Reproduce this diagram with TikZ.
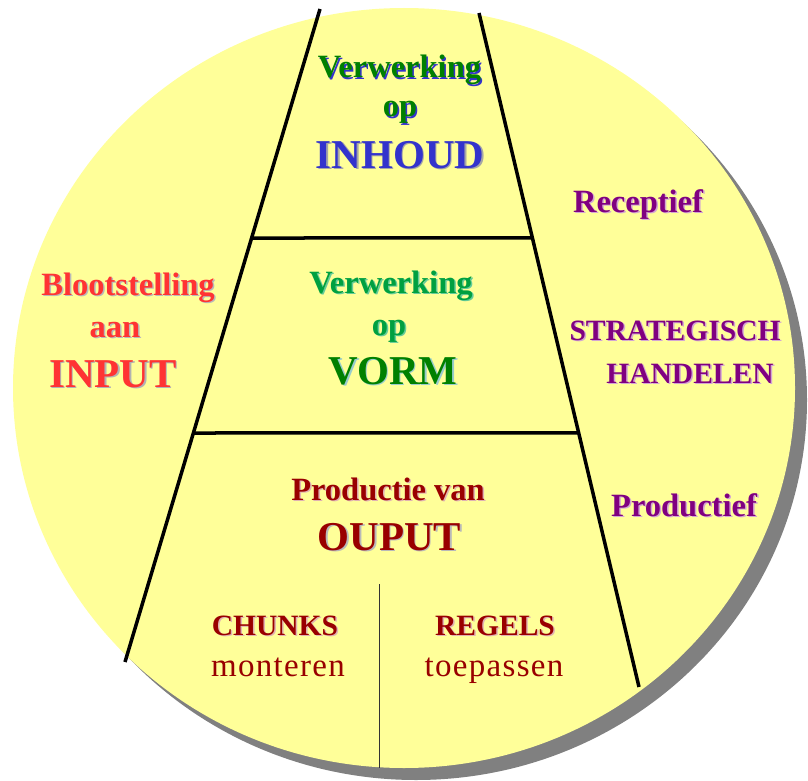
\documentclass[tikz,border=0pt]{standalone}
\usepackage{fontspec}
\setmainfont{Liberation Serif}
\usetikzlibrary{calc}
\definecolor{disc}{HTML}{FFFF99}
\definecolor{discshadow}{HTML}{808080}
\definecolor{inred}{HTML}{FF3333}
\definecolor{purp}{HTML}{800080}
\definecolor{dred}{HTML}{990000}
\definecolor{inblue}{HTML}{3333CC}
\definecolor{topgreen}{HTML}{008000}
\definecolor{midgreen}{HTML}{00A040}
\definecolor{midshade}{HTML}{66CC99}
\definecolor{vormgreen}{HTML}{008000}
\definecolor{vormshade}{HTML}{99CCCC}
\newcommand{\shd}[2]{\rlap{\kern1.5pt\raisebox{-1.5pt}{\textcolor{#1}{#2}}}#2}
\tikzset{
  lbl/.style={inner sep=0pt, anchor=base},
  fmid/.style={font=\bfseries\fontsize{32.5}{36}\selectfont},
  fbig/.style={font=\bfseries\fontsize{41}{46}\selectfont},
  fcap/.style={font=\bfseries\fontsize{29.5}{33}\selectfont},
  freg/.style={font=\fontsize{33}{36}\selectfont\addfontfeatures{LetterSpace=4}},
  divider/.style={line width=3.5pt, black},
  thinline/.style={line width=1pt, black!80},
}
\begin{document}
\begin{tikzpicture}[x=1pt,y=-1pt]
\useasboundingbox (0,0) rectangle (808,781);
% disc with shadow
\fill[discshadow] (416,400) ellipse [x radius=391pt, y radius=380pt];
\fill[disc] (404,388) ellipse [x radius=391pt, y radius=380pt];
% trapezoid lines
\coordinate (lt) at (320,9);
\coordinate (lb) at (125,662);
\coordinate (rt) at (479,13);
\coordinate (rb) at (639,687);
\coordinate (h1l) at ($(lt)!0.3507!(lb)$);
\coordinate (h1r) at ($(rt)!0.3338!(rb)$);
\coordinate (h2l) at ($(lt)!0.6493!(lb)$);
\coordinate (h2r) at ($(rt)!0.6231!(rb)$);
\coordinate (vt) at (379,584);
\coordinate (vb) at (379,768);
\draw[divider] (lt) -- (lb);
\draw[divider] (rt) -- (rb);
\draw[divider] (h1l) -- (h1r);
\draw[divider] (h2l) -- (h2r);
\draw[thinline] (vt) -- (vb);
% top: Verwerking op INHOUD
\node[lbl,fmid,text=topgreen] (t1) at (399.5,78) {\shd{inblue}{Verwerking}};
\node[lbl,fmid,text=topgreen] (t2) at (400,117) {\shd{inblue}{op}};
\node[lbl,fbig,text=inblue] (t3) at (400,168) {\shd{gray!70}{INHOUD}};
% middle: Verwerking op VORM
\node[lbl,fmid,text=midgreen] (m1) at (391,293) {\shd{midshade}{Verwerking}};
\node[lbl,fmid,text=midgreen] (m2) at (389,335) {\shd{midshade}{op}};
\node[lbl,fbig,text=vormgreen] (m3) at (393,384) {\shd{vormshade}{VORM}};
% left: Blootstelling aan INPUT
\node[lbl,fmid,text=inred] (l1) at (128,295) {\shd{gray!55}{Blootstelling}};
\node[lbl,fmid,text=inred] (l2) at (115,337) {\shd{gray!55}{aan}};
\node[lbl,fbig,text=inred] (l3) at (113,387) {\shd{gray!60}{INPUT}};
% right side
\node[lbl,fmid,text=purp] (r1) at (638,212) {\shd{purp!35}{Receptief}};
\node[lbl,fcap,text=purp] (r2) at (675,340) {\shd{purp!35}{STRATEGISCH}};
\node[lbl,fcap,text=purp] (r3) at (690,383) {\shd{purp!35}{HANDELEN}};
\node[lbl,fmid,text=purp] (r4) at (684,516) {\shd{purp!35}{Productief}};
% bottom: Productie van OUPUT
\node[lbl,fmid,text=dred] (b1) at (388,500) {\shd{dred!30}{Productie van}};
\node[lbl,fbig,text=dred] (b2) at (389.5,550) {\shd{gray!55}{OUPUT}};
\node[lbl,fcap,text=dred] (c1) at (275,635) {\shd{dred!30}{CHUNKS}};
\node[lbl,freg,text=dred] (c2) at (278,676) {monteren};
\node[lbl,fcap,text=dred] (g1) at (495,635) {\shd{dred!30}{REGELS}};
\node[lbl,freg,text=dred] (g2) at (494,676) {toepassen};
\end{tikzpicture}
\end{document}
